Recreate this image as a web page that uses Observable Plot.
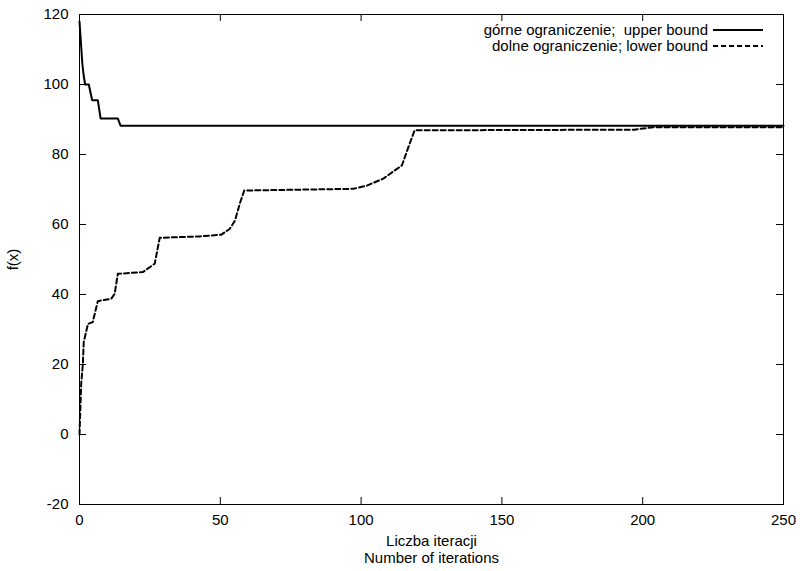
<!DOCTYPE html>
<html>
<head>
<meta charset="utf-8">
<script src="https://cdn.jsdelivr.net/npm/d3@7"></script>
<script src="https://cdn.jsdelivr.net/npm/@observablehq/plot@0.6"></script>
<style>
  html, body { margin: 0; padding: 0; background: #fff; }
  #wrap { position: relative; width: 800px; height: 571px; font-family: "Liberation Sans", Arial, Helvetica, sans-serif; }
  #legend { position: absolute; right: 37px; top: 22px; font-size: 15px; line-height: 16px; color: #000; }
  #legend .row { display: flex; align-items: center; justify-content: flex-end; }
  #legend svg { margin-left: 5px; }
</style>
</head>
<body>
<div id="wrap"><div id="legend"></div></div>
<script>
// Upper bound (górne ograniczenie)
const upperX = [0, 0.5, 1, 1.5, 2, 3.3, 4.5, 6.5, 7.5, 13.6, 14.6, 250];
const upperY = [118, 112, 106, 102.5, 100, 100, 95.5, 95.5, 90.3, 90.3, 88.2, 88.2];
// Lower bound (dolne ograniczenie)
const lowerX = [0, 0.6, 1.2, 1.5, 3, 4.7, 6.5, 11.3, 12.5, 13.6, 22.5, 26.7, 28.5, 42.7, 50.4, 53.4, 55.2, 56.9, 58.5, 97.3, 102, 107.9, 114.5, 116.8, 119, 196.9, 204, 250];
const lowerY = [0, 14.5, 20.2, 26.4, 31.6, 32.1, 38.1, 38.8, 40.2, 45.9, 46.4, 48.8, 56.2, 56.6, 57.1, 58.8, 61.1, 65.9, 69.7, 70.2, 71.1, 73.1, 76.9, 82.1, 86.9, 87.1, 87.8, 87.8];

const xTicks = [0, 50, 100, 150, 200, 250];
const yTicks = [-20, 0, 20, 40, 60, 80, 100, 120];
const seriesNames = ["górne ograniczenie;  upper bound", "dolne ograniczenie; lower bound"];
const xTitle = ["Liczba iteracji", "Number of iterations"];
const yTitle = "f(x)";

const upper = upperX.map((x, i) => ({x, y: upperY[i]}));
const lower = lowerX.map((x, i) => ({x, y: lowerY[i]}));

const frameW = 800 - 79 - 17;
const frameH = 571 - 14 - 67;
const T = 7; // inward tick length

const chart = Plot.plot({
  width: 800,
  height: 571,
  marginLeft: 79,
  marginRight: 17,
  marginTop: 14,
  marginBottom: 67,
  style: {fontFamily: "'Liberation Sans', Arial, Helvetica, sans-serif", fontSize: "15px", color: "#000", background: "#fff"},
  x: {domain: [0, 250]},
  y: {domain: [-20, 120]},
  marks: [
    Plot.frame({stroke: "#000", strokeWidth: 1}),
    Plot.axisX(xTicks, {anchor: "bottom", tickSize: 0, tickPadding: 10, tickFormat: d => String(d), label: null}),
    Plot.axisY(yTicks, {anchor: "left", tickSize: 0, tickPadding: 11, tickFormat: d => String(d),
      label: yTitle, labelAnchor: "center", labelArrow: "none", labelOffset: 72}),
    Plot.text([xTitle[0]], {text: d => d, frameAnchor: "bottom", dy: 41, fontSize: 15}),
    Plot.text([xTitle[1]], {text: d => d, frameAnchor: "bottom", dy: 58, fontSize: 15}),
    // inward ticks on all four sides
    Plot.tickX(xTicks, {x: d => d, stroke: "#000", strokeWidth: 1, insetTop: frameH - T}),
    Plot.tickX(xTicks, {x: d => d, stroke: "#000", strokeWidth: 1, insetBottom: frameH - T}),
    Plot.tickY(yTicks, {y: d => d, stroke: "#000", strokeWidth: 1, insetRight: frameW - T}),
    Plot.tickY(yTicks, {y: d => d, stroke: "#000", strokeWidth: 1, insetLeft: frameW - T}),
    Plot.line(upper, {x: "x", y: "y", stroke: "#000", strokeWidth: 2}),
    Plot.line(lower, {x: "x", y: "y", stroke: "#000", strokeWidth: 2, strokeDasharray: "5,3"})
  ]
});
const wrap = document.getElementById("wrap");
wrap.insertBefore(chart, wrap.firstChild);

const legend = document.getElementById("legend");
seriesNames.forEach((name, i) => {
  const row = document.createElement("div");
  row.className = "row";
  const span = document.createElement("span");
  span.textContent = name;
  span.style.whiteSpace = "pre";
  row.appendChild(span);
  const ns = "http://www.w3.org/2000/svg";
  const s = document.createElementNS(ns, "svg");
  s.setAttribute("width", "50");
  s.setAttribute("height", "16");
  const l = document.createElementNS(ns, "line");
  l.setAttribute("x1", "0"); l.setAttribute("x2", "50");
  l.setAttribute("y1", "8"); l.setAttribute("y2", "8");
  l.setAttribute("stroke", "#000");
  l.setAttribute("stroke-width", "2");
  if (i === 1) l.setAttribute("stroke-dasharray", "5,3");
  s.appendChild(l);
  row.appendChild(s);
  legend.appendChild(row);
});
</script>
</body>
</html>
